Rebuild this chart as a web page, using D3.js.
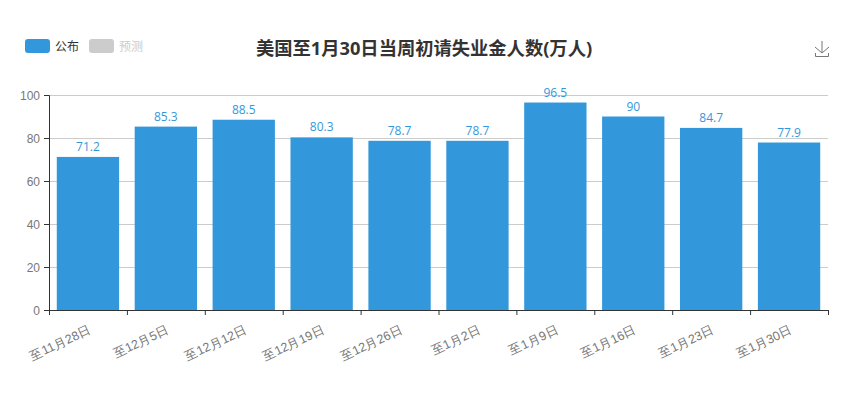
<!DOCTYPE html>
<html>
<head>
<meta charset="utf-8">
<script src="https://cdnjs.cloudflare.com/ajax/libs/d3/7.8.5/d3.min.js"></script>
<style>
body { margin:0; background:#fff; font-family:"Open Sans","Noto Sans CJK SC",sans-serif; }
</style>
</head>
<body>
<svg id="chart" width="851" height="395"></svg>
<script>
const categories = ['至11月28日','至12月5日','至12月12日','至12月19日','至12月26日','至1月2日','至1月9日','至1月16日','至1月23日','至1月30日'];
const values = [71.2,85.3,88.5,80.3,78.7,78.7,96.5,90,84.7,77.9];
const yTicks = [0,20,40,60,80,100];

const margin = {t:95, r:23, b:85, l:49};
const w = 851 - margin.l - margin.r;
const h = 395 - margin.t - margin.b;

const svg = d3.select('#chart');
const plot = svg.append('g').attr('transform',`translate(${margin.l},${margin.t})`);

const scaleX = d3.scaleBand().domain(categories).range([0,w]).paddingInner(0.2).paddingOuter(0.1);
const scaleY = d3.scaleLinear().domain([0,100]).range([h,0]);

// grid lines
plot.selectAll('.grid').data(yTicks.filter(d => d > 0)).enter().append('line')
    .attr('x1',0).attr('x2',w)
    .attr('y1',d => scaleY(d)+0.5).attr('y2',d => scaleY(d)+0.5)
    .style('stroke','#ccc');

// bars
plot.selectAll('.bar').data(values).enter().append('rect')
    .attr('x',(d,i) => scaleX(categories[i]))
    .attr('width',scaleX.bandwidth())
    .attr('y',d => scaleY(d))
    .attr('height',d => h-scaleY(d))
    .style('fill','#3398DB');

// value labels
plot.selectAll('.val').data(values).enter().append('text')
    .attr('x',(d,i) => scaleX(categories[i])+scaleX.bandwidth()/2)
    .attr('y',d => scaleY(d)-6)
    .attr('text-anchor','middle')
    .style('font-size','12px').style('fill','#3398DB')
    .text(d => d);

// y axis
const axisY = d3.axisLeft(scaleY).tickValues(yTicks).tickSize(5).tickPadding(4);
const yNode = plot.append('g').call(axisY);
yNode.selectAll('path,line').style('stroke','#333');
yNode.selectAll('text').attr('y',1).style('font-size','12px').style('fill','#777').style('font-family','inherit');

// x axis
const step = w/categories.length;
const axisX = d3.axisBottom(scaleX).tickSize(0);
const xNode = plot.append('g').attr('transform',`translate(0,${h})`).call(axisX);
xNode.select('.domain').style('stroke','#333');
xNode.selectAll('text')
    .style('font-size','12.5px').style('fill','#777').style('font-family','inherit')
    .attr('text-anchor','end')
    .attr('transform','translate(-1,12) rotate(-25)');
// ticks sit between the bands
plot.selectAll('.tickx').data(d3.range(categories.length+1)).enter().append('line')
    .attr('x1',d => d*step+0.5).attr('x2',d => d*step+0.5)
    .attr('y1',h).attr('y2',h+5)
    .style('stroke','#333');

// title
svg.append('text').attr('x',424).attr('y',55).attr('text-anchor','middle')
    .style('font-size','18.3px').style('font-weight','bold').style('fill','#333')
    .text('美国至1月30日当周初请失业金人数(万人)');

// legend
const legend = [{name:'公布',color:'#3398DB',x:25,tc:'#333'},{name:'预测',color:'#ccc',x:89,tc:'#ccc'}];
const lg = svg.selectAll('.lg').data(legend).enter().append('g').attr('transform',d => `translate(${d.x},39)`);
lg.append('rect').attr('width',25).attr('height',14).attr('rx',3).style('fill',d => d.color);
lg.append('text').attr('x',30).attr('y',12).style('font-size','12px').style('fill',d => d.tc).text(d => d.name);

// download icon
svg.append('path').attr('d','M815.5 53v3.5h13v-3.5M822 41v12M815 47l7 6l7-6')
    .style('fill','none').style('stroke','#777');
</script>
</body>
</html>
